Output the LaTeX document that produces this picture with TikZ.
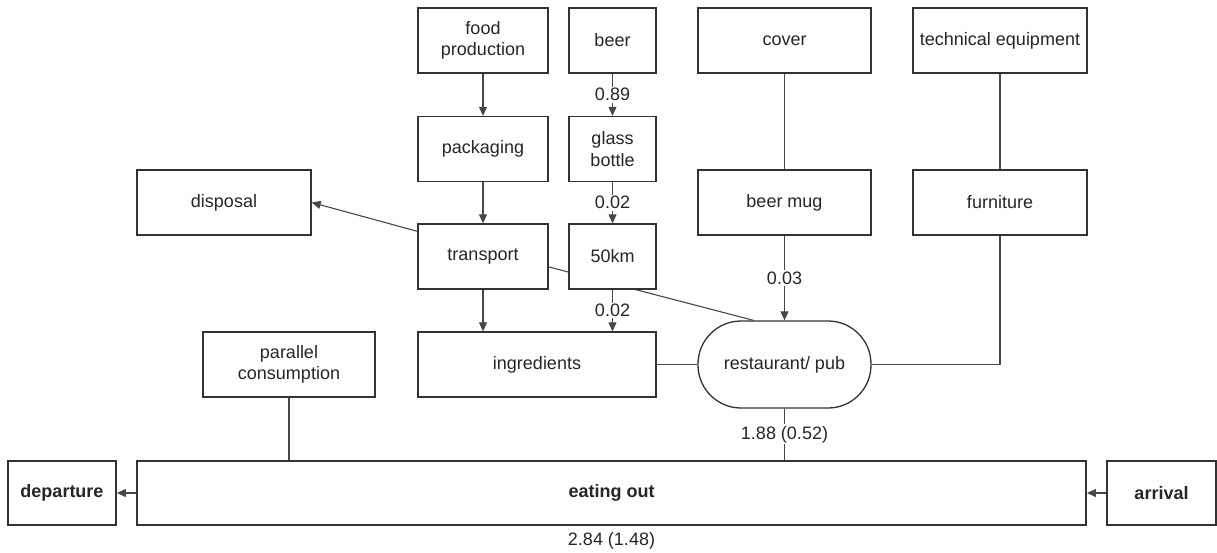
\documentclass[tikz,border=0pt]{standalone}
\usepackage{fontspec}
\setmainfont{Liberation Sans}
\usetikzlibrary{arrows.meta}
\usetikzlibrary{positioning}
\usetikzlibrary{backgrounds}

\tikzset{link/.style={draw=black!72,line width=1.1pt},
  flow/.style={fill=white,inner sep=1.5pt}}

\begin{document}
\begin{tikzpicture}
  [x=1pt,y=-1pt,
  every node/.style={font=\fontsize{18}{21.5}\selectfont,text=black!85,align=center},
  box/.style={draw=black!80,line width=1.3pt,fill=white,inner sep=0pt,minimum height=65pt},
  stage/.style={box,line width=1.8pt,minimum height=64pt,font=\fontsize{18}{21.5}\selectfont\bfseries},
  >={Triangle[length=9pt,width=8pt]}]

\useasboundingbox (0,0) rectangle (1217,552);

\node[box,minimum width=130pt] (food)      at (483,40.5)   {food\\production};
\node[box,minimum width=87pt]  (beer)      at (612.5,40.5) {beer};
\node[box,minimum width=173pt] (cover)     at (784.5,40.5) {cover};
\node[box,minimum width=174pt] (techeq)    at (1000,40.5)  {technical equipment};
\node[box,minimum width=130pt] (packaging) at (483,149)    {packaging};
\node[box,minimum width=87pt]  (bottle)    at (612.5,149)  {glass\\bottle};
\node[box,minimum width=174pt] (disposal)  at (224,202.5)  {disposal};
\node[box,minimum width=173pt] (mug)       at (784.5,202.5){beer mug};
\node[box,minimum width=174pt] (furniture) at (1000,202.5) {furniture};
\node[box,minimum width=130pt] (transport) at (483,256.5)  {transport};
\node[box,minimum width=87pt]  (km50)      at (612.5,256.5){50km};
\node[box,minimum width=172pt] (parallel)  at (289,364.5)  {parallel\\consumption};
\node[box,minimum width=238pt] (ingredients) at (537,364.5) {ingredients};
\node[box,minimum width=173pt,minimum height=87pt,rounded corners=43pt] (pub) at (784.5,364.5) {restaurant/ pub};
\node[stage,minimum width=108pt] (departure) at (62,493)     {departure};
\node[stage,minimum width=949pt] (eatout)    at (611.5,493)  {eating out};
\node[stage,minimum width=109pt] (arrival)   at (1161.5,493) {arrival};
\node (total) at (611.5,541) {2.84 (1.48)};

% runs behind the 50km box
\begin{scope}[on background layer]
\draw[link] (transport.-9) -- ([xshift=-31pt]pub.north);
\end{scope}

\draw[link,->] (food)--(packaging); \draw[link,->] (packaging)--(transport);
\draw[link,->] (beer)--(bottle) node[flow,midway] {0.89};
\draw[link,->] (bottle)--(km50) node[flow,midway] {0.02};
\draw[link,->] (transport.south)--(transport.south |- ingredients.north);
\draw[link,->] (km50.south)--(km50.south |- ingredients.north) node[flow,midway] {0.02};
\draw[link,->] (transport.159)--(disposal.east);
\draw[link] (cover)--(mug); \draw[link] (techeq)--(furniture);
\draw[link,->] (mug)--(pub) node[flow,midway] {0.03};
\draw[link] (ingredients)--(pub); \draw[link] (furniture.south) |- (pub.east);
\draw[link] (pub.south)--(pub.south |- eatout.north) node[flow,midway] {1.88 (0.52)};
\draw[link] (parallel.south)--(parallel.south |- eatout.north);
\draw[link,->] (eatout)--(departure); \draw[link,->] (arrival)--(eatout);
\end{tikzpicture}
\end{document}
